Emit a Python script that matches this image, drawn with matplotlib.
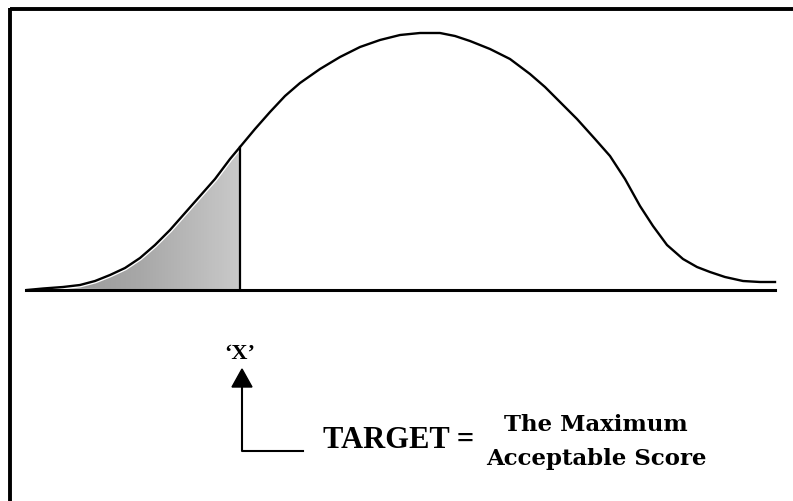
import numpy as np
import matplotlib.pyplot as plt
from matplotlib.patches import Polygon
from matplotlib.colors import LinearSegmentedColormap

# curve (x = score, y = drawing height, pixel units, y downwards)
curve_x = [27, 43, 63, 80, 95, 110, 125, 140, 155, 170, 185, 200, 215, 230,
           240, 255, 270, 285, 300, 320, 340, 360, 380, 400, 420, 440, 455,
           470, 490, 510, 530, 545, 560, 577, 595, 610, 625, 640, 653, 667,
           683, 697, 710, 725, 743, 760, 775]
curve_y = [291, 289.5, 288, 286, 282, 276, 269, 259, 246, 231, 214, 197, 180,
           160, 148, 130, 113, 97, 84, 70, 58, 48, 41, 36, 34, 34, 37, 42, 50,
           60, 75, 88, 103, 120, 140, 157, 180, 207, 227, 246, 260, 268, 273,
           278, 282, 283, 283]
target_x = 240
baseline_y = 291
label_x = "\u2018X\u2019"
label_target = "TARGET ="
label_desc = ["The Maximum", "Acceptable Score"]

fig = plt.figure(figsize=(7.93, 5.02), dpi=100)
ax = fig.add_axes([0, 0, 1, 1])
ax.set_xlim(0, 793)
ax.set_ylim(502, 0)
ax.axis('off')

serif = ['Liberation Serif', 'DejaVu Serif']
wide_serif = ['DejaVu Serif']

# frame (top and left only)
ax.plot([10, 793], [10, 10], color='black', lw=2.8, solid_capstyle='butt')
ax.plot([10, 10], [9, 502], color='black', lw=2.8, solid_capstyle='butt')

# shaded tail
xs = np.array(curve_x)
ys = np.array(curve_y)
m = xs <= target_x
poly_x = list(xs[m][1:]) + [target_x]
poly_y = list(ys[m][1:]) + [baseline_y]
patch = Polygon(np.column_stack([poly_x, poly_y]), closed=True,
                facecolor='none', edgecolor='none')
ax.add_patch(patch)
shade = LinearSegmentedColormap.from_list('shade', ['#959595', '#a8a8a8', '#c9c9c9'])
grad = np.linspace(0, 1, 200)[None, :] * np.ones((50, 1))
img = ax.imshow(grad, extent=[43, target_x, baseline_y, 148], cmap=shade,
                aspect='auto', zorder=1)
img.set_clip_path(patch)

# curve (white halo inside shaded part), baseline, cut line
ax.plot(xs[m], ys[m], color='white', lw=3.6, zorder=2)
ax.plot(curve_x, curve_y, color='black', lw=1.7, zorder=3,
        solid_joinstyle='round')
ax.plot([26, 775], [baseline_y, baseline_y], color='black', lw=2.2, zorder=3)
ax.plot([target_x, target_x], [148, baseline_y], color='black', lw=1.6,
        zorder=3)

# arrow
ax.plot([242, 242, 303], [386, 452, 452], color='black', lw=1.5)
ax.add_patch(Polygon([[232, 388], [252, 388], [242, 370]], closed=True,
                     facecolor='black', edgecolor='black'))

ax.text(240, 354, label_x, family=serif, fontsize=16, fontweight='bold',
        ha='center', va='center')
ax.text(323, 441, label_target, family=serif, fontsize=22, fontweight='bold',
        ha='left', va='center')
ax.text(596, 425, label_desc[0], family=wide_serif, fontsize=16.5,
        fontweight='bold', ha='center', va='center')
ax.text(596, 459, label_desc[1], family=wide_serif, fontsize=16.5,
        fontweight='bold', ha='center', va='center')

fig.savefig('out.png', dpi=100, facecolor='white')
